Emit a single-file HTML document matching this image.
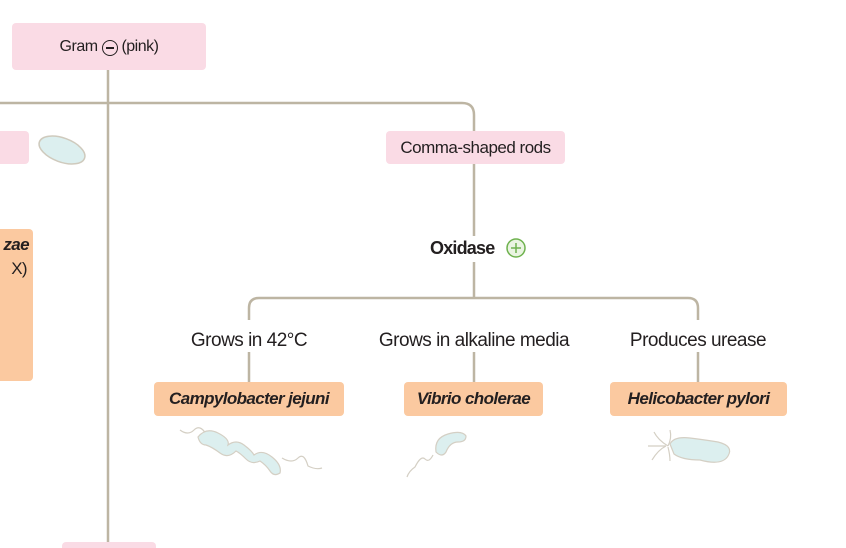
<!DOCTYPE html>
<html><head><meta charset="utf-8"><style>
body{margin:0;width:846px;height:548px;overflow:hidden;background:#fff;font-family:"Liberation Sans",sans-serif;position:relative}
.b{position:absolute;border-radius:4px;display:flex;align-items:center;justify-content:center;color:#231f20}
.pk{background:#fadbe5}.or{background:#fbc9a0;font-weight:bold;font-style:italic;font-size:17px;letter-spacing:-0.6px}
.t{position:absolute;font-size:19px;color:#231f20;letter-spacing:-0.5px;transform:translateX(-50%);white-space:nowrap}
svg{position:absolute;left:0;top:0}
</style></head><body>
<svg width="846" height="548">
<g fill="none" stroke="#bdb5a3" stroke-width="2.5">
<path d="M108 70V548"/>
<path d="M0 103H462q12 0 12 12V131"/>
<path d="M474 164V236"/>
<path d="M474 262V298"/>
<path d="M249 320V308q0-10 10-10H688q10 0 10 10V320"/>
<path d="M249 352V382M474 352V382M698 352V382"/>
</g>
<ellipse cx="62" cy="150" rx="24" ry="12" transform="rotate(20 62 150)" fill="#dcefef" stroke="#cfcabd" stroke-width="1.5"/>
<g fill="none" stroke="#d4cfc4" stroke-width="1.2">
<path d="M180 430q8 6 14 0t12 4"/><path d="M282 458q10 6 16 0t10 8q8 4 14 2"/>
<path d="M433 455q-4 8 -8 4t-10 8q-6 4-8 10"/>
<path d="M668 446q-10-6-14-14M666 446q-8 4-14 14M668 447q2 8 2 14M668 446q4-8 2-16M666 446q-12 0-18 0"/>
</g>
<path d="M198 437q8-10 20-4t10 12q8-6 16 0t10 10q8-6 18 2t8 16q-6 4-10-2t-10-10q-8 4-14-2t-10-8q-8 8-16 2t-14-8q-6 0-8-8z" fill="#dcefef" stroke="#d4cfc4" stroke-width="1.2"/>
<path d="M436 452q-2-14 12-18t18 2q0 6-8 6t-12 10q-4 6-10 0z" fill="#dcefef" stroke="#d4cfc4" stroke-width="1.2"/>
<path d="M670 444q4-8 20-6t28 4q16 4 10 14t-28 4q-18 0-26-6z" fill="#dcefef" stroke="#d4cfc4" stroke-width="1.2"/>
<circle cx="516" cy="248" r="9" fill="#eaf4e2" stroke="#6fb24f" stroke-width="1.5"/>
<path d="M511 248h10M516 243v10" stroke="#6fb24f" stroke-width="1.5"/>
</svg>
<div class="b pk" style="left:12px;top:23px;width:194px;height:47px;font-size:16px;letter-spacing:-0.5px">Gram&nbsp;<span style="display:inline-block;width:14px;height:14px;border:1.5px solid #231f20;border-radius:50%;position:relative;top:1px"><span style="position:absolute;left:3px;top:6px;width:8px;height:2px;background:#231f20"></span></span>&nbsp;(pink)</div>
<div class="b pk" style="left:-4px;top:131px;width:33px;height:33px"></div>
<div class="b pk" style="left:386px;top:131px;width:179px;height:33px;font-size:17px;letter-spacing:-0.5px">Comma-shaped rods</div>
<div class="b or" style="left:-4px;top:229px;width:37px;height:152px;display:block;font-size:17px"><div style="position:absolute;right:4px;top:6px">zae</div><div style="position:absolute;right:6px;top:30px;font-weight:normal;font-style:normal">X)</div></div>
<div style="position:absolute;left:430px;top:238px;font-size:18px;font-weight:bold;letter-spacing:-0.8px;color:#231f20">Oxidase</div>
<div class="t" style="left:249px;top:330px">Grows in 42°C</div>
<div class="t" style="left:474px;top:330px">Grows in alkaline media</div>
<div class="t" style="left:698px;top:330px">Produces urease</div>
<div class="b or" style="left:154px;top:382px;width:190px;height:34px">Campylobacter jejuni</div>
<div class="b or" style="left:404px;top:382px;width:139px;height:34px">Vibrio cholerae</div>
<div class="b or" style="left:610px;top:382px;width:177px;height:34px">Helicobacter pylori</div>
<div class="b pk" style="left:62px;top:542px;width:94px;height:6px;border-radius:4px 4px 0 0"></div>
</body></html>
